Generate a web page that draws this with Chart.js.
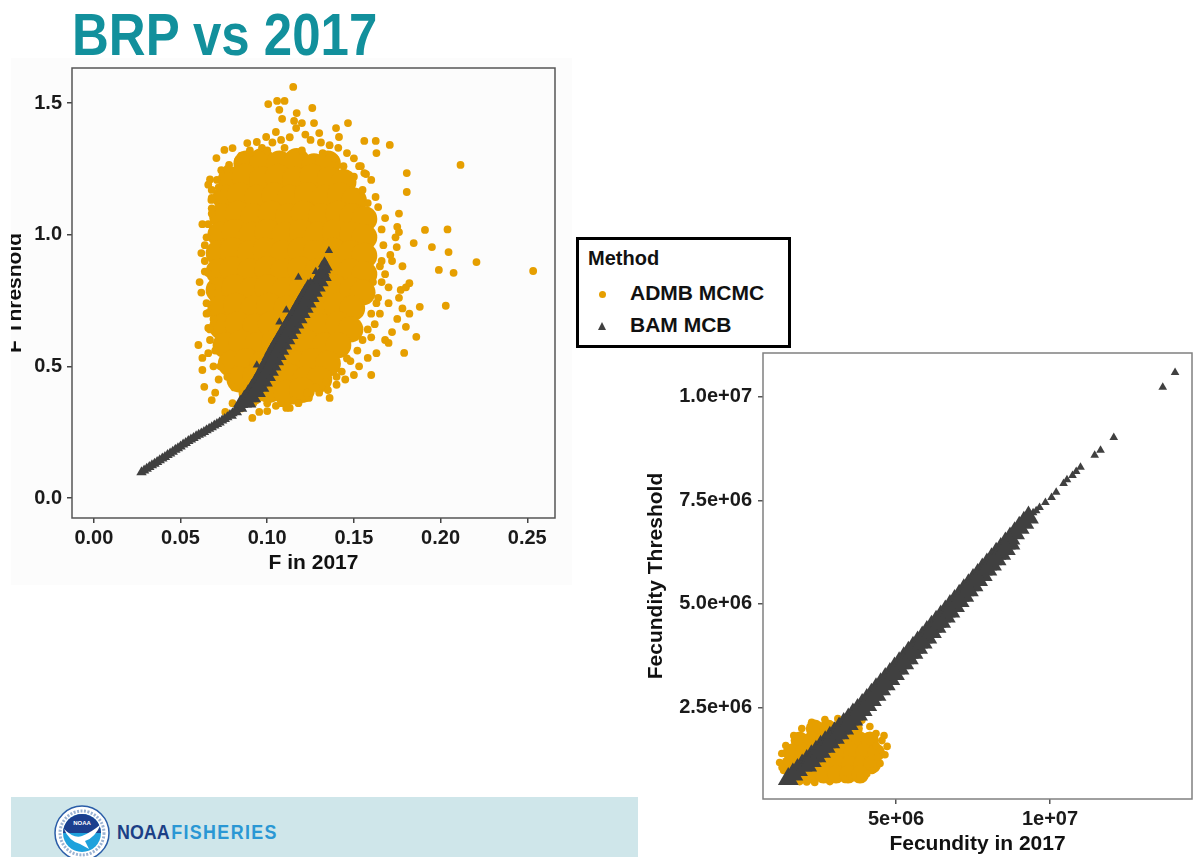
<!DOCTYPE html>
<html><head><meta charset="utf-8">
<script src="https://cdn.jsdelivr.net/npm/chart.js@4.4.1/dist/chart.umd.min.js"></script>
<style>
html,body{margin:0;padding:0;}
body{width:1193px;height:857px;overflow:hidden;background:#fff;position:relative;font-family:'Liberation Sans',Arial,sans-serif;}
#title{position:absolute;left:72px;top:5px;font-family:'Liberation Sans',Arial,sans-serif;font-weight:bold;font-size:60px;line-height:60px;color:#12909c;white-space:nowrap;transform:scaleX(0.85);transform-origin:0 0;}
#bgL{position:absolute;left:11px;top:58px;width:561px;height:527px;background:#fcfcfc;}
#wrapL{position:absolute;left:11px;top:50px;width:569px;height:540px;overflow:hidden;}
#innerL{position:absolute;left:-31px;top:0;width:600px;height:540px;}
#wrapR{position:absolute;left:640px;top:340px;width:553px;height:517px;}
#legend{position:absolute;left:576px;top:237px;width:215px;height:111px;box-sizing:border-box;border:3px solid #000;background:#fff;}
#legend .lt{position:absolute;left:9px;top:7px;font-weight:bold;font-size:20px;color:#111;}
#legend .li{position:absolute;left:51px;font-weight:bold;font-size:21px;color:#111;white-space:nowrap;}
#legend .dot{position:absolute;left:20px;top:51px;width:7px;height:7px;border-radius:50%;background:#E69F00;}
#legend .tri{position:absolute;left:19px;top:82px;width:0;height:0;border-left:4.5px solid transparent;border-right:4.5px solid transparent;border-bottom:8px solid #404040;}
#footer{position:absolute;left:11px;top:797px;width:627px;height:60px;background:#cfe6ea;overflow:hidden;}
#noaa{position:absolute;left:106px;top:24px;font-family:'Liberation Sans',Arial,sans-serif;font-weight:bold;font-size:21px;line-height:21px;white-space:nowrap;transform:scaleX(0.85);transform-origin:0 0;}
</style></head>
<body>
<div id="bgL"></div>
<div id="title">BRP vs 2017</div>
<div id="wrapL"><div id="innerL"><canvas id="cL"></canvas></div></div>
<div id="wrapR"><canvas id="cR"></canvas></div>
<div id="legend">
  <div class="lt" id="legTitle"></div>
  <span class="dot"></span><div class="li" id="leg0" style="top:41px"></div>
  <span class="tri"></span><div class="li" id="leg1" style="top:73px"></div>
</div>
<div id="footer">
  <svg width="60" height="60" viewBox="0 0 60 60" style="position:absolute;left:41px;top:6px">
    <circle cx="30" cy="30" r="27" fill="#fff" stroke="#2a5da8" stroke-width="1.5"/>
    <circle cx="30" cy="30" r="22" fill="none" stroke="#9bb3d3" stroke-width="3" stroke-dasharray="2 1.5"/>
    <circle cx="30" cy="30" r="19" fill="#1ea1dc"/>
    <path d="M11 30 A19 19 0 0 1 49 30 Z" fill="#1c3f8e"/>
    <path d="M12 26 Q22 36 30 33 Q40 29 49 21 Q43 35 33 38 L37 46 L28 41 Q17 38 12 26 Z" fill="#fff"/>
    <text x="30" y="22" font-size="6" fill="#fff" text-anchor="middle" font-weight="bold" font-family="Liberation Sans">NOAA</text>
  </svg>
  <div id="noaa"><span style="color:#1b3f86">NOAA</span><span style="color:#2a97d4;margin-left:2px;letter-spacing:1.6px">FISHERIES</span></div>
</div>
<script>
// ---------- text ----------
const legendTitle = 'Method';
const methods = ['ADMB MCMC', 'BAM MCB'];
const fTitleX = 'F in 2017';
const fTitleY = 'F Threshold';
const fecTitleX = 'Fecundity in 2017';
const fecTitleY = 'Fecundity Threshold';

// ---------- left panel axes ----------
const fRangeX = [-0.0126, 0.266];
const fRangeY = [-0.076, 1.633];
const fTickValsX = [0, 0.05, 0.10, 0.15, 0.20, 0.25];
const fTickLabelsX = ['0.00', '0.05', '0.10', '0.15', '0.20', '0.25'];
const fTickValsY = [0, 0.5, 1.0, 1.5];
const fTickLabelsY = ['0.0', '0.5', '1.0', '1.5'];

// ---------- left panel data: [F in 2017, F Threshold] ----------
// ADMB MCMC dense core of the cloud
const admbFCore = [
 [0.088,1.27],[0.097,1.28],[0.107,1.27],[0.117,1.28],[0.127,1.26],[0.135,1.27],
 [0.079,1.21],[0.087,1.22],[0.097,1.21],[0.106,1.22],[0.116,1.21],[0.126,1.22],[0.136,1.21],[0.144,1.20],
 [0.076,1.14],[0.084,1.15],[0.094,1.14],[0.104,1.15],[0.113,1.14],[0.123,1.15],[0.133,1.14],[0.142,1.15],[0.150,1.13],
 [0.074,1.07],[0.083,1.08],[0.092,1.07],[0.102,1.08],[0.112,1.07],[0.121,1.08],[0.131,1.07],[0.141,1.08],[0.149,1.07],[0.156,1.06],
 [0.073,1.00],[0.081,1.01],[0.091,1.00],[0.100,1.01],[0.110,1.00],[0.120,1.01],[0.129,1.00],[0.139,1.01],[0.149,1.00],[0.156,0.99],
 [0.072,0.93],[0.080,0.94],[0.090,0.93],[0.099,0.94],[0.109,0.93],[0.119,0.94],[0.128,0.93],[0.138,0.94],[0.148,0.93],[0.156,0.92],
 [0.072,0.86],[0.080,0.87],[0.090,0.86],[0.100,0.87],[0.109,0.86],[0.119,0.87],[0.129,0.86],[0.138,0.87],[0.148,0.86],[0.156,0.85],
 [0.072,0.79],[0.081,0.80],[0.091,0.79],[0.100,0.80],[0.110,0.79],[0.120,0.80],[0.129,0.79],[0.139,0.80],[0.149,0.79],[0.155,0.78],
 [0.073,0.72],[0.082,0.73],[0.092,0.72],[0.101,0.73],[0.111,0.72],[0.121,0.73],[0.130,0.72],[0.140,0.73],[0.149,0.72],
 [0.074,0.65],[0.083,0.66],[0.093,0.65],[0.102,0.66],[0.112,0.65],[0.122,0.66],[0.131,0.65],[0.141,0.66],[0.148,0.64],
 [0.076,0.58],[0.085,0.59],[0.094,0.58],[0.104,0.59],[0.114,0.58],[0.123,0.59],[0.133,0.58],[0.141,0.58],
 [0.079,0.51],[0.088,0.52],[0.097,0.51],[0.107,0.52],[0.117,0.51],[0.126,0.52],[0.135,0.51],
 [0.084,0.45],[0.093,0.46],[0.103,0.45],[0.113,0.46],[0.122,0.45],[0.130,0.45],
 [0.091,0.40],[0.101,0.41],[0.111,0.40],[0.120,0.41]
];
// ADMB MCMC scattered points around the cloud
const admbFEdge = [
 [0.115,1.561],[0.1006,1.496],[0.1057,1.508],[0.110,1.508],[0.107,1.474],[0.126,1.481],[0.117,1.462],
 [0.1086,1.44],[0.1155,1.432],[0.120,1.424],[0.127,1.424],[0.1466,1.424],[0.105,1.39],[0.1167,1.405],
 [0.130,1.386],[0.1397,1.405],[0.1414,1.371],[0.156,1.356],[0.1626,1.356],[0.1707,1.341],[0.163,1.31],
 [0.0885,1.348],[0.094,1.352],[0.0994,1.371],[0.0753,1.322],[0.080,1.329],[0.0707,1.291],
 [0.2115,1.265],[0.1805,1.234],[0.1805,1.162],[0.067,1.21],[0.071,1.208],[0.068,1.17],[0.0678,1.132],
 [0.0626,1.04],[0.191,1.018],[0.204,1.02],[0.1845,0.968],[0.195,0.953],[0.2046,0.934],[0.2207,0.896],
 [0.199,0.866],[0.2075,0.855],[0.176,1.01],[0.1747,0.953],[0.171,0.923],[0.2534,0.862],
 [0.085,1.30],[0.090,1.32],[0.097,1.33],[0.103,1.35],[0.108,1.36],[0.113,1.37],[0.122,1.38],[0.125,1.36],
 [0.131,1.35],[0.136,1.34],[0.141,1.33],[0.146,1.31],[0.150,1.29],[0.154,1.26],[0.157,1.23],[0.160,1.208],
 [0.1625,1.143],[0.164,1.105],[0.168,1.063],[0.175,1.03],[0.174,0.99],[0.176,1.08],[0.153,1.26],[0.156,1.234],
 [0.065,0.99],[0.068,1.08],[0.068,1.14],[0.0735,1.245],[0.078,1.265],[0.066,1.19],
 [0.0603,0.581],[0.0626,0.532],[0.066,0.703],[0.066,0.646],[0.0626,0.486],[0.0637,0.422],[0.068,0.372],
 [0.0758,0.327],[0.0914,0.304],[0.0954,0.327],[0.111,0.342],[0.113,0.342],[0.135,0.41],[0.136,0.38],
 [0.160,0.467],[0.150,0.467],[0.158,0.532],[0.179,0.551],[0.186,0.612],[0.180,0.65],[0.188,0.726],
 [0.203,0.730],[0.170,0.589],[0.062,0.78],[0.061,0.82],[0.064,0.86],[0.066,0.854],[0.062,0.93],[0.064,0.96],
 [0.080,0.36],[0.085,0.34],[0.100,0.33],[0.105,0.35],[0.118,0.36],[0.124,0.38],[0.130,0.40],[0.140,0.43],
 [0.145,0.45],[0.153,0.50],[0.163,0.55],[0.168,0.60],[0.172,0.63],[0.175,0.68],[0.178,0.72],[0.182,0.70],
 [0.176,0.76],[0.170,0.80],[0.168,0.85],[0.165,0.88],[0.172,0.90],[0.178,0.88],[0.170,0.74],[0.165,0.70],
 [0.162,0.66],[0.070,0.40],[0.072,0.45],[0.069,0.50],[0.066,0.55],[0.067,0.60],[0.069,0.68],[0.065,0.74],
 [0.068,0.80],[0.182,0.816],[0.177,0.79],[0.180,0.80],[0.160,0.61],[0.164,0.76],[0.161,0.82],[0.146,0.53],
 [0.166,1.02],[0.167,0.96],[0.166,0.90],[0.166,0.82],[0.163,0.74],[0.160,0.70],[0.158,0.64],[0.155,0.60],
 [0.152,0.56],[0.148,0.52],[0.143,0.48],[0.140,0.46],[0.158,1.12],[0.155,1.17],[0.150,1.22],[0.144,1.26],
 [0.139,1.29],[0.132,1.31],[0.120,1.32],[0.110,1.33],[0.100,1.32],[0.090,1.31],[0.083,1.28],[0.077,1.25],
 [0.072,1.18],[0.068,1.10],[0.066,1.04],[0.064,0.90],[0.065,0.70],[0.067,0.64],[0.070,0.56],[0.073,0.50],
 [0.077,0.46],[0.081,0.42],[0.086,0.39],[0.092,0.36],[0.100,0.36],[0.108,0.36],[0.115,0.37],[0.123,0.40],
 [0.128,0.42],[0.134,0.44]
];
// BAM MCB band, lower (thin) part
const bamFLower = [
 [0.0275,0.098],[0.029,0.104],[0.0305,0.111],[0.032,0.118],[0.0335,0.124],[0.035,0.130],[0.0365,0.137],
 [0.038,0.143],[0.0395,0.150],[0.041,0.156],[0.0425,0.163],[0.044,0.169],[0.0455,0.176],[0.047,0.183],
 [0.0485,0.189],[0.050,0.196],[0.0515,0.203],[0.053,0.209],[0.0545,0.216],[0.056,0.222],[0.0575,0.228],
 [0.059,0.234],[0.0605,0.240],[0.062,0.245],[0.0635,0.251],[0.065,0.257],[0.0665,0.263],[0.068,0.269],
 [0.0695,0.275],[0.071,0.281],[0.0725,0.287],[0.074,0.294],[0.0755,0.300],[0.077,0.307],[0.0785,0.315],
 [0.080,0.322],[0.0815,0.330],[0.083,0.338],[0.0845,0.345],[0.086,0.353],
 [0.0795,0.312],[0.0825,0.326],[0.0855,0.339]
];
// BAM MCB band, upper (wide) part
const bamFUpper = [
 [0.0870,0.36],[0.0895,0.38],[0.0920,0.40],[0.0940,0.42],[0.0960,0.44],[0.0978,0.46],[0.0995,0.48],
 [0.1010,0.50],[0.1025,0.52],[0.1040,0.54],[0.1055,0.56],[0.1072,0.58],[0.1090,0.60],[0.1108,0.62],
 [0.1125,0.64],[0.1142,0.66],[0.1160,0.68],[0.1178,0.70],[0.1195,0.72],[0.1212,0.74],[0.1230,0.76],
 [0.1248,0.78],[0.1265,0.80],[0.1282,0.82],[0.1300,0.84],[0.1318,0.86],[0.1335,0.88],
 [0.0845,0.36],[0.0868,0.38],
 [0.0890,0.40],[0.0910,0.42],[0.0930,0.44],[0.0948,0.46],[0.0965,0.48],[0.0980,0.50],[0.0995,0.52],
 [0.1010,0.54],[0.1025,0.56],[0.1042,0.58],[0.1060,0.60],[0.1078,0.62],[0.1095,0.64],[0.1112,0.66],
 [0.1130,0.68],[0.1148,0.70],[0.1165,0.72],[0.1182,0.74],[0.1200,0.76],[0.1218,0.78],[0.1235,0.80],
 [0.0895,0.36],[0.0922,0.38],
 [0.0950,0.40],[0.0970,0.42],[0.0990,0.44],[0.1008,0.46],[0.1025,0.48],[0.1040,0.50],[0.1055,0.52],
 [0.1070,0.54],[0.1085,0.56],[0.1102,0.58],[0.1120,0.60],[0.1138,0.62],[0.1155,0.64],[0.1172,0.66],
 [0.1190,0.68],[0.1208,0.70],[0.1225,0.72],[0.1242,0.74],[0.1260,0.76],[0.1278,0.78],[0.1295,0.80],
 [0.1312,0.82],[0.1330,0.84],
 [0.0880,0.37],[0.0908,0.39],[0.0930,0.41],[0.0950,0.43],[0.0969,0.45],[0.0987,0.47],[0.1002,0.49],
 [0.1018,0.51],[0.1032,0.53],[0.1048,0.55],[0.1064,0.57],[0.1081,0.59],[0.1099,0.61],[0.1116,0.63],
 [0.1133,0.65],[0.1151,0.67],[0.1169,0.69],[0.1186,0.71],[0.1204,0.73],[0.1221,0.75],[0.1239,0.77],
 [0.1256,0.79],[0.1274,0.81],[0.1291,0.83],[0.1309,0.85],[0.1326,0.87]
];
// BAM MCB individual triangles
const bamFPoints = [
 [0.1356,0.940],[0.1316,0.885],[0.118,0.838],[0.111,0.714],[0.107,0.668],[0.094,0.505],
 [0.128,0.860],[0.133,0.900],[0.125,0.820],[0.134,0.870]
];

// ---------- right panel axes ----------
const fecRangeX = [0.68e6, 14.61e6];
const fecRangeY = [0.29e6, 11.06e6];
const fecTickValsX = [5e6, 1e7];
const fecTickLabelsX = ['5e+06', '1e+07'];
const fecTickValsY = [2.5e6, 5e6, 7.5e6, 1e7];
const fecTickLabelsY = ['2.5e+06', '5.0e+06', '7.5e+06', '1.0e+07'];

// ---------- right panel data: [Fecundity in 2017, Fecundity Threshold] ----------
const admbFecCore = [
 [2.36e6,1.99e6],[2.79e6,1.99e6],[3.21e6,1.99e6],[3.63e6,1.99e6],
 [1.87e6,1.70e6],[2.26e6,1.70e6],[2.65e6,1.70e6],[3.05e6,1.70e6],[3.44e6,1.70e6],[3.83e6,1.70e6],[4.15e6,1.70e6],
 [1.61e6,1.41e6],[2.00e6,1.41e6],[2.39e6,1.41e6],[2.79e6,1.41e6],[3.18e6,1.41e6],[3.57e6,1.41e6],[3.96e6,1.41e6],[4.35e6,1.41e6],
 [1.55e6,1.12e6],[1.94e6,1.12e6],[2.33e6,1.12e6],[2.72e6,1.12e6],[3.11e6,1.12e6],[3.50e6,1.12e6],[3.89e6,1.12e6],[4.22e6,1.12e6],
 [1.87e6,0.88e6],[2.26e6,0.88e6],[2.65e6,0.88e6],[3.05e6,0.88e6],[3.44e6,0.88e6],[3.83e6,0.88e6]
];
const admbFecEdge = [
 [1.22e6,1.17e6],[1.35e6,0.98e6],[1.55e6,0.83e6],[1.87e6,0.71e6],[2.36e6,0.69e6],[2.85e6,0.71e6],
 [3.34e6,0.76e6],[3.83e6,0.86e6],[4.22e6,0.98e6],[4.48e6,1.15e6],[4.64e6,1.36e6],[4.71e6,1.56e6],
 [4.54e6,1.70e6],[4.35e6,1.87e6],[4.15e6,2.04e6],[3.89e6,2.19e6],[3.50e6,2.23e6],[3.11e6,2.23e6],
 [2.69e6,2.21e6],[2.26e6,2.14e6],[1.94e6,1.99e6],[1.68e6,1.82e6],[1.42e6,1.58e6],[1.29e6,1.39e6],
 [4.35e6,1.58e6],[4.61e6,1.82e6],[4.40e6,1.30e6],[4.05e6,0.90e6],[2.10e6,0.70e6],[1.30e6,1.05e6]
];
const bamFecBand = [
 [1.50e6,0.77e6],[1.65e6,0.88e6],[1.80e6,0.99e6],[1.95e6,1.10e6],[2.10e6,1.21e6],[2.25e6,1.32e6],
 [2.40e6,1.43e6],[2.55e6,1.55e6],[2.70e6,1.66e6],[2.85e6,1.77e6],[3.00e6,1.88e6],[3.15e6,1.99e6],
 [3.30e6,2.10e6],[3.45e6,2.21e6],[3.60e6,2.33e6],[3.75e6,2.44e6],[3.90e6,2.56e6],[4.05e6,2.68e6],
 [4.20e6,2.81e6],[4.35e6,2.94e6],[4.50e6,3.06e6],[4.65e6,3.19e6],[4.80e6,3.31e6],[4.95e6,3.44e6],
 [5.10e6,3.57e6],[5.25e6,3.69e6],[5.40e6,3.82e6],[5.55e6,3.94e6],[5.70e6,4.07e6],[5.85e6,4.19e6],
 [6.00e6,4.32e6],[6.15e6,4.45e6],[6.30e6,4.57e6],[6.45e6,4.70e6],[6.60e6,4.82e6],[6.75e6,4.95e6],
 [6.90e6,5.07e6],[7.05e6,5.20e6],[7.20e6,5.33e6],[7.35e6,5.45e6],[7.50e6,5.58e6],[7.65e6,5.70e6],
 [7.80e6,5.83e6],[7.95e6,5.95e6],[8.10e6,6.08e6],[8.25e6,6.21e6],[8.40e6,6.33e6],[8.55e6,6.46e6],
 [8.70e6,6.58e6],[8.85e6,6.71e6],[9.00e6,6.84e6],[9.15e6,6.96e6],[9.30e6,7.09e6],
 [2.10e6,1.10e6],[2.40e6,1.32e6],[2.70e6,1.55e6],[3.00e6,1.77e6],[3.30e6,1.99e6],[3.60e6,2.21e6],
 [3.90e6,2.44e6],[4.20e6,2.68e6],[4.50e6,2.94e6],[4.80e6,3.19e6],[5.10e6,3.44e6],[5.40e6,3.69e6],
 [5.70e6,3.94e6],[6.00e6,4.19e6],[6.30e6,4.45e6],[6.60e6,4.70e6],[6.90e6,4.95e6],[7.20e6,5.20e6],
 [7.50e6,5.45e6],[7.80e6,5.70e6],[8.10e6,5.95e6],[8.40e6,6.21e6],[8.70e6,6.46e6],
 [2.25e6,1.21e6],[2.55e6,1.43e6],[2.85e6,1.66e6],[3.15e6,1.88e6],[3.45e6,2.10e6],[3.75e6,2.33e6],
 [4.05e6,2.56e6],[4.35e6,2.81e6],[4.65e6,3.06e6],[4.95e6,3.31e6],[5.25e6,3.57e6],[5.55e6,3.82e6],
 [5.85e6,4.07e6],[6.15e6,4.32e6],[6.45e6,4.57e6],[6.75e6,4.82e6],[7.05e6,5.07e6],[7.35e6,5.33e6],
 [7.65e6,5.58e6],[7.95e6,5.83e6],[8.25e6,6.08e6],[8.55e6,6.33e6]
];
const bamFecPoints = [
 [14.06e6,10.59e6],[13.66e6,10.23e6],[12.07e6,9.02e6],[11.64e6,8.71e6],[11.45e6,8.59e6],
 [10.99e6,8.30e6],[10.73e6,8.10e6],[10.44e6,7.91e6],[10.05e6,7.57e6],[9.66e6,7.33e6],[9.45e6,7.20e6],
 [10.20e6,7.70e6],[10.85e6,8.20e6],[9.85e6,7.45e6],[9.55e6,7.25e6],[10.55e6,8.00e6]
];

// ---------- drawing ----------
const LIB = "'Liberation Sans', Arial, sans-serif";
const ORANGE = '#E69F00';
const DARK = '#404040';
const xy = arr => arr.map(p => ({x: p[0], y: p[1]}));

const framePlugin = {
  id: 'frame',
  afterDatasetsDraw(chart, args, opts) {
    const {ctx, chartArea: a} = chart;
    ctx.save();
    ctx.strokeStyle = opts.color;
    ctx.lineWidth = opts.width;
    ctx.strokeRect(a.left, a.top, a.right - a.left, a.bottom - a.top);
    ctx.restore();
  }
};

function axis(range, vals, labels, title, isX, fit, tickPad, titlePad, color) {
  return {
    type: 'linear', min: range[0], max: range[1],
    afterBuildTicks: s => { s.ticks = vals.map(v => ({value: v})); },
    afterFit: s => {
      if (isX) s.height = fit; else s.width = fit;
      s.paddingTop = 0; s.paddingBottom = 0; s.paddingLeft = 0; s.paddingRight = 0;
    },
    grid: {drawOnChartArea: false, drawTicks: true, tickLength: 5, color: color, lineWidth: 1.5},
    border: {display: false},
    ticks: {
      callback: v => labels[vals.indexOf(v)],
      font: {family: LIB, size: 20, weight: 'bold'}, color: '#1a1a1a',
      padding: tickPad, maxRotation: 0, autoSkip: false
    },
    title: {display: true, text: title, font: {family: LIB, size: 21, weight: 'bold'}, color: '#111', padding: titlePad}
  };
}

function pts(data, style, r, color, label) {
  return {label: label, data: xy(data), pointStyle: style, pointRadius: r, pointHoverRadius: r,
          backgroundColor: color, borderWidth: 0, pointBorderWidth: 0, showLine: false};
}

Chart.defaults.font.family = LIB;

new Chart(document.getElementById('cL'), {
  type: 'scatter',
  data: {datasets: [
    pts(bamFPoints, 'triangle', 4.8, DARK, methods[1]),
    pts(bamFUpper, 'triangle', 8.5, DARK, methods[1]),
    pts(bamFLower, 'triangle', 6, DARK, methods[1]),
    pts(admbFEdge, 'circle', 3.9, ORANGE, methods[0]),
    pts(admbFCore, 'circle', 13, ORANGE, methods[0])
  ]},
  options: {
    responsive: true, maintainAspectRatio: false, animation: false, events: [],
    layout: {autoPadding: false, padding: {top: 18, right: 25, bottom: 0, left: 0}},
    scales: {
      x: axis(fRangeX, fTickValsX, fTickLabelsX, fTitleX, true, 72, 3, {top: 0, bottom: 14}, '#444'),
      y: axis(fRangeY, fTickValsY, fTickLabelsY, fTitleY, false, 92, 5, {top: 23, bottom: 0}, '#444')
    },
    plugins: {legend: {display: false}, tooltip: {enabled: false}, frame: {color: '#555', width: 1.5}}
  },
  plugins: [framePlugin]
});

new Chart(document.getElementById('cR'), {
  type: 'scatter',
  data: {datasets: [
    pts(bamFecPoints, 'triangle', 5, DARK, methods[1]),
    pts(bamFecBand, 'triangle', 12, DARK, methods[1]),
    pts(admbFecEdge, 'circle', 3.8, ORANGE, methods[0]),
    pts(admbFecCore, 'circle', 9, ORANGE, methods[0])
  ]},
  options: {
    responsive: true, maintainAspectRatio: false, animation: false, events: [],
    layout: {autoPadding: false, padding: {top: 13, right: 1, bottom: 0, left: 0}},
    scales: {
      x: axis(fecRangeX, fecTickValsX, fecTickLabelsX, fecTitleX, true, 58, 3, {top: 0, bottom: 0}, '#555'),
      y: axis(fecRangeY, fecTickValsY, fecTickLabelsY, fecTitleY, false, 123, 6, {top: 4, bottom: 0}, '#555')
    },
    plugins: {legend: {display: false}, tooltip: {enabled: false}, frame: {color: '#808080', width: 1.5}}
  },
  plugins: [framePlugin]
});

document.getElementById('legTitle').textContent = legendTitle;
document.getElementById('leg0').textContent = methods[0];
document.getElementById('leg1').textContent = methods[1];
</script>
</body></html>
